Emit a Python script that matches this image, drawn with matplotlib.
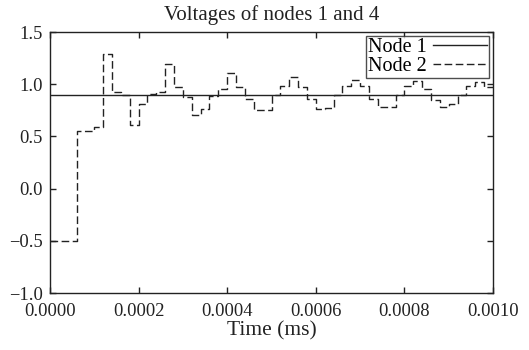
import matplotlib
matplotlib.use("Agg")
import matplotlib.pyplot as plt
import numpy as np

# Sample times (ms), uniform 2e-5 steps
time_ms = [0.0, 0.00002, 0.00004, 0.00006, 0.00008, 0.0001, 0.00012, 0.00014, 0.00016, 0.00018,
           0.0002, 0.00022, 0.00024, 0.00026, 0.00028, 0.0003, 0.00032, 0.00034, 0.00036, 0.00038,
           0.0004, 0.00042, 0.00044, 0.00046, 0.00048, 0.0005, 0.00052, 0.00054, 0.00056, 0.00058,
           0.0006, 0.00062, 0.00064, 0.00066, 0.00068, 0.0007, 0.00072, 0.00074, 0.00076, 0.00078,
           0.0008, 0.00082, 0.00084, 0.00086, 0.00088, 0.0009, 0.00092, 0.00094, 0.00096, 0.00098,
           0.001]

node2 = [-0.5, -0.5, -0.5, 0.55, 0.55, 0.59, 1.29, 0.93, 0.895, 0.61,
         0.815, 0.91, 0.93, 1.195, 0.975, 0.88, 0.705, 0.76, 0.886, 0.958,
         1.107, 0.974, 0.863, 0.752, 0.752, 0.895, 0.98, 1.07, 0.974, 0.863,
         0.76, 0.775, 0.895, 0.98, 1.04, 0.98, 0.863, 0.784, 0.78, 0.90,
         0.98, 1.03, 0.958, 0.853, 0.784, 0.806, 0.895, 0.98, 1.02, 0.974,
         0.974]

node1 = [0.9] * len(time_ms)

x_ticks = [0.0, 0.0002, 0.0004, 0.0006, 0.0008, 0.0010]
y_ticks = [-1.0, -0.5, 0.0, 0.5, 1.0, 1.5]

plt.rcParams['font.family'] = ['Liberation Serif', 'DejaVu Serif']
plt.rcParams['axes.unicode_minus'] = True

fig = plt.figure(figsize=(5.29, 3.5), dpi=100)
ax = fig.add_axes([50/529, 1-293/350, (493-50)/529, (293-32)/350])

ax.step(time_ms, node1, where='post', color='#222222', lw=1.0, label='Node 1')
ax.step(time_ms, node2, where='post', color='#222222', lw=1.0,
        linestyle=(0, (5.5, 2.5)), label='Node 2')

ax.set_xlim(0, 0.001)
ax.set_ylim(-1.0, 1.5)
ax.set_xticks(x_ticks)
ax.set_xticklabels([f"{v:.4f}" for v in x_ticks])
ax.set_yticks(y_ticks)
ax.set_yticklabels([f"{v:.1f}".replace('-', '\u2212') for v in y_ticks])
ax.tick_params(direction='in', top=True, right=True, length=4, width=1,
               labelsize=13.3, colors='#222222')
ax.tick_params(axis='x', pad=7)
ax.tick_params(axis='y', pad=5)
for s in ax.spines.values():
    s.set_linewidth(1.0)
    s.set_color('#222222')

ax.set_title('Voltages of nodes 1 and 4', fontsize=15, pad=9, color='#222222')
ax.set_xlabel('Time (ms)', fontsize=15.5, labelpad=1, color='#222222')

leg = ax.legend(loc='upper right', fontsize=14.5, markerfirst=False, handlelength=2.7,
                frameon=True, fancybox=False, borderpad=0.1, labelspacing=0.0,
                handletextpad=0.3, borderaxespad=0.2)
leg.get_frame().set_edgecolor('#222222')
leg.get_frame().set_linewidth(1.0)

fig.savefig('out.png', dpi=100)
